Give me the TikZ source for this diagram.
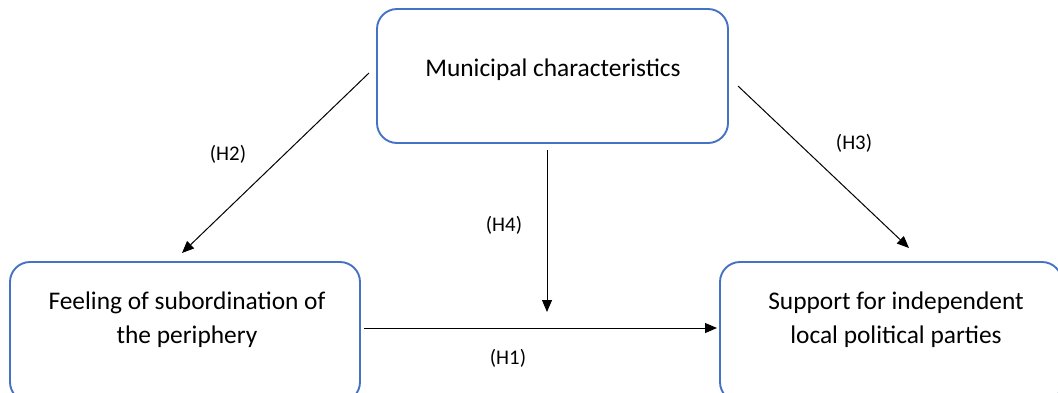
\documentclass[tikz,border=0pt]{standalone}
\usepackage{fontspec}
\setmainfont{Carlito}
\usetikzlibrary{arrows.meta}
\definecolor{boxblue}{RGB}{68,114,196}
\begin{document}
\begin{tikzpicture}[x=1pt,y=-1pt,
  box/.style={draw=boxblue, line width=1.9pt, rounded corners=20pt, inner sep=0pt},
  boxtext/.style={align=center, inner sep=0pt, font=\fontsize{25.4}{34}\selectfont},
  hyp/.style={inner sep=0pt, font=\fontsize{20.8}{24}\selectfont},
  arr/.style={draw=black, line width=1pt, -{Triangle[length=12pt,width=10pt]}}]
\useasboundingbox (0,0) rectangle (1058,392);
\begin{scope}
\clip (0,0) rectangle (1058,392);
\node[box, minimum width=351pt, minimum height=134pt] (top) at (552.5,76) {};
\node[box, minimum width=350pt, minimum height=140pt] (left) at (185,332) {};
\node[box, minimum width=342pt, minimum height=140pt] (right) at (891,332) {};
\end{scope}
\node[boxtext] (toptext) at (553,70) {Municipal characteristics};
\node[boxtext] (lefttext) at (187,320) {Feeling of subordination of\\the periphery};
\node[boxtext] (righttext) at (896,320) {Support for independent\\local political parties};
\coordinate (h2s) at (369,73);
\coordinate (h2e) at (182,253);
\coordinate (h3s) at (738,86);
\coordinate (h3e) at (909,248);
\coordinate (h4s) at (547,150);
\coordinate (h4e) at (547,312);
\coordinate (h1s) at (364,328);
\coordinate (h1e) at (717,328);
\draw[arr] (h2s) -- (h2e);
\draw[arr] (h3s) -- (h3e);
\draw[arr] (h4s) -- (h4e);
\draw[arr] (h1s) -- (h1e);
\node[hyp] (H2) at (228,154) {(H2)};
\node[hyp] (H3) at (854,143) {(H3)};
\node[hyp] (H4) at (504,225) {(H4)};
\node[hyp] (H1) at (508,358) {(H1)};
\end{tikzpicture}
\end{document}
